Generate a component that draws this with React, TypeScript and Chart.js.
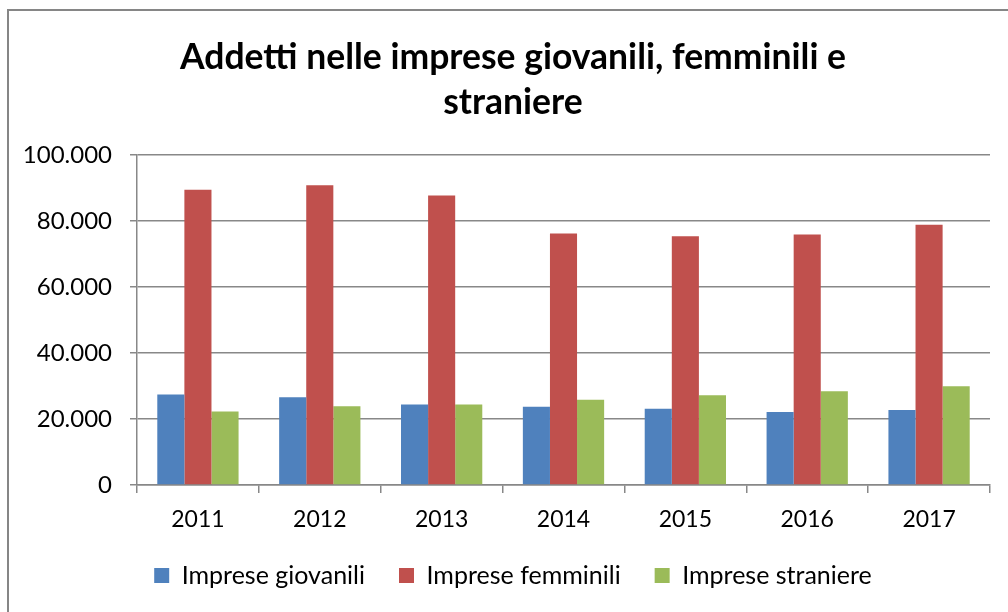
import React, { useEffect, useRef } from "react";
import { Chart, registerables } from "chart.js";

Chart.register(...registerables);

const categories = ["2011", "2012", "2013", "2014", "2015", "2016", "2017"];
const impreseGiovanili = [27400, 26600, 24400, 23700, 23100, 22100, 22700];
const impreseFemminili = [89500, 90800, 87700, 76200, 75400, 75900, 78900];
const impreseStraniere = [22300, 23900, 24400, 25800, 27200, 28400, 29900];
const seriesLabels = ["Imprese giovanili", "Imprese femminili", "Imprese straniere"];
const titleLines = ["Addetti nelle imprese giovanili, femminili e", "straniere"];

const FONT = "Lato, 'Open Sans', sans-serif";
const GRID = "#888888";

function fmt(v: number): string {
  return String(Math.round(v)).replace(/\B(?=(\d{3})+(?!\d))/g, ".");
}

const framePlugin = {
  id: "frame",
  beforeDraw(chart: any) {
    const ctx = chart.ctx;
    ctx.save();
    ctx.fillStyle = "#ffffff";
    ctx.fillRect(0, 0, chart.width, chart.height);
    ctx.strokeStyle = "#868686";
    ctx.lineWidth = 2;
    ctx.strokeRect(8, 10, 1200, 800);
    ctx.restore();
  },
};

export default function App() {
  const ref = useRef<HTMLCanvasElement | null>(null);
  useEffect(() => {
    if (!ref.current) return;
    const chart = new Chart(ref.current, {
      type: "bar",
      data: {
        labels: categories,
        datasets: [
          { label: seriesLabels[0], data: impreseGiovanili, backgroundColor: "#4F81BD", yAxisID: "y" },
          { label: seriesLabels[1], data: impreseFemminili, backgroundColor: "#C0504D", yAxisID: "y" },
          { label: seriesLabels[2], data: impreseStraniere, backgroundColor: "#9BBB59", yAxisID: "y" },
        ],
      },
      options: {
        responsive: false,
        animation: false,
        layout: { padding: { left: 0, right: -18, top: 0, bottom: 14 } },
        datasets: { bar: { categoryPercentage: 0.667, barPercentage: 1 } },
        plugins: {
          title: {
            display: true,
            text: titleLines,
            color: "#000000",
            font: { family: FONT, size: 35.5, weight: "bold", lineHeight: 45 / 35.5 },
            padding: { top: 35.5, bottom: 29.5 },
          },
          legend: {
            position: "bottom",
            labels: {
              color: "#000000",
              font: { family: FONT, size: 25 },
              boxWidth: 15,
              boxHeight: 15,
              padding: 34,
            },
          },
          tooltip: { enabled: false },
        },
        scales: {
          x: {
            grid: {
              display: true,
              drawOnChartArea: false,
              drawTicks: true,
              tickLength: 8,
              color: GRID,
              lineWidth: 1.5,
              offset: true,
            },
            border: { display: true, color: GRID, width: 1.5 },
            ticks: { color: "#000000", font: { family: FONT, size: 23 }, padding: 13 },
            afterFit: (scale: any) => {
              scale.height = 44;
            },
          },
          y: {
            position: "left",
            min: 0,
            max: 100000,
            grid: { color: GRID, lineWidth: 1.5, tickLength: 7, drawTicks: true },
            border: { display: true, color: GRID, width: 1.5 },
            ticks: {
              stepSize: 20000,
              color: "#000000",
              font: { family: FONT, size: 24 },
              padding: 18,
              callback: (v: any) => fmt(Number(v)),
            },
            afterFit: (scale: any) => {
              scale.width = 137;
            },
          },
          y2: {
            position: "right",
            display: true,
            min: 0,
            max: 100000,
            grid: { display: false, drawOnChartArea: false },
            border: { display: false },
            ticks: { display: false },
            afterFit: (scale: any) => {
              scale.width = 36;
            },
          },
        },
      },
      plugins: [framePlugin],
    });
    return () => chart.destroy();
  }, []);
  return (
    <div style={{ position: "absolute", left: 0, top: 0, width: 1008, height: 612 }}>
      <canvas ref={ref} width={1008} height={612} />
    </div>
  );
}
